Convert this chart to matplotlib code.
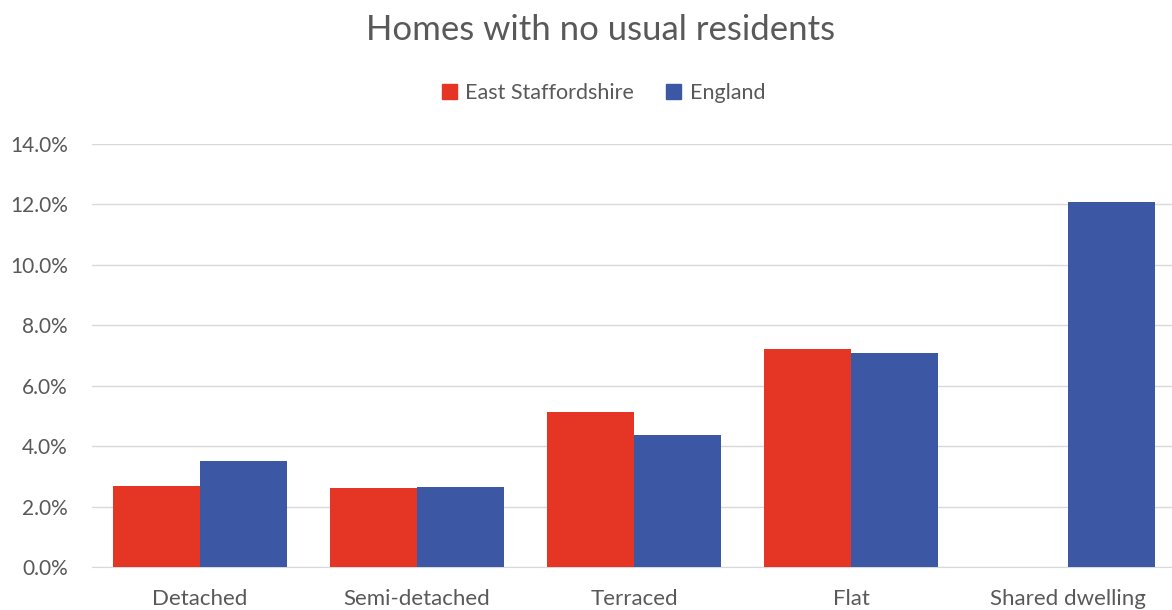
import matplotlib.pyplot as plt
import numpy as np
from matplotlib.patches import Patch
from matplotlib.ticker import FuncFormatter

plt.rcParams['font.family'] = ['Lato', 'DejaVu Sans']

categories = ['Detached', 'Semi-detached', 'Terraced', 'Flat', 'Shared dwelling']
east_staffs = [2.68, 2.62, 5.13, 7.22, 0.0]
england = [3.51, 2.65, 4.37, 7.09, 12.09]

red = '#E43525'
blue = '#3C57A4'
grey = '#595959'

fig = plt.figure(figsize=(11.72, 6.10), dpi=100)
ax = fig.add_axes([0.0781, 0.0705, 0.9257, 0.6935])

x = np.arange(len(categories))
w = 0.401
ax.bar(x - w / 2, east_staffs, w, color=red, zorder=3)
ax.bar(x + w / 2, england, w, color=blue, zorder=3)

ax.set_xlim(-0.5, len(categories) - 0.5)
ax.set_ylim(0, 14)
ax.set_yticks(np.arange(0, 15, 2))
ax.yaxis.set_major_formatter(FuncFormatter(lambda v, p: f'{v:.1f}%'))
ax.set_xticks(x)
ax.set_xticklabels(categories)
ax.grid(axis='y', color='#D9D9D9', linewidth=1, zorder=0)
for s in ['top', 'right', 'left']:
    ax.spines[s].set_visible(False)
ax.spines['bottom'].set_color('#D9D9D9')
ax.tick_params(length=0, colors=grey)
ax.tick_params(axis='x', pad=16, labelsize=16)
ax.tick_params(axis='y', pad=17, labelsize=15)

fig.text(0.512, 0.951, 'Homes with no usual residents', ha='center', va='center',
         fontsize=25, color=grey)
handles = [Patch(color=red, label='East Staffordshire'), Patch(color=blue, label='England')]
fig.legend(handles=handles, loc='center', bbox_to_anchor=(0.515, 0.848), ncol=2,
           frameon=False, fontsize=15.5, labelcolor=grey, handlelength=0.7,
           handleheight=0.7, handletextpad=0.4, columnspacing=1.5)

fig.savefig('out.png', dpi=100)
